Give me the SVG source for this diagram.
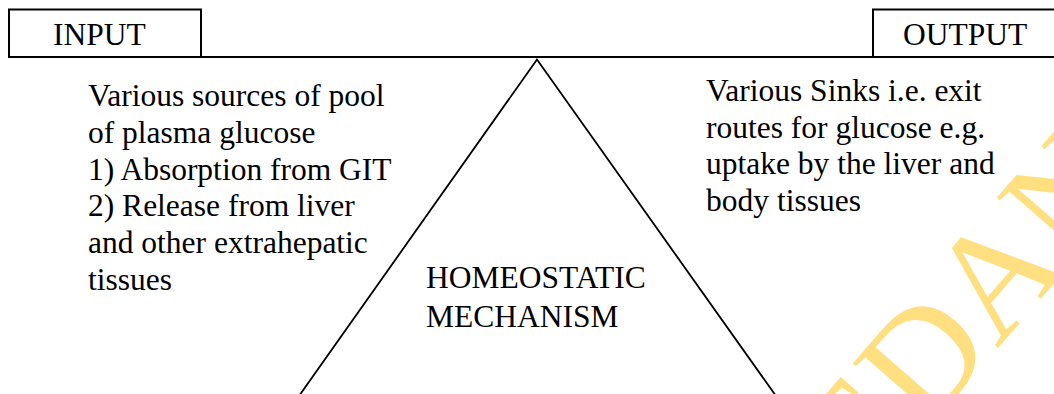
<svg xmlns="http://www.w3.org/2000/svg" width="1054" height="394" viewBox="0 0 1054 394">
  <style>
    .t { font-family: "Liberation Serif", "Times New Roman", serif; font-size: 31.5px; fill: #000; }
    .box { fill: #fff; stroke: #000; stroke-width: 2; }
    .ln { fill: none; stroke: #000; stroke-width: 1.8; }
    .wm { font-family: "Liberation Serif", "Times New Roman", serif; font-size: 152px; fill: #FFDF80; }
  </style>
  <rect width="1054" height="394" fill="#fff"/>
  <g id="watermark">
    <text class="wm" transform="translate(864,502) rotate(-49)">EDAN</text>
  </g>
  <g id="connectors">
    <line class="ln" x1="201" y1="57" x2="873" y2="57"/>
    <polyline class="ln" points="299,396 537,59.5 776,396"/>
  </g>
  <g id="input">
    <rect class="box" x="9" y="9.5" width="192" height="47.5"/>
    <text class="t" x="53" y="44.5">INPUT</text>
  </g>
  <g id="output">
    <rect class="box" x="873" y="9.5" width="190" height="47.5"/>
    <text class="t" x="903" y="44.5">OUTPUT</text>
  </g>
  <g id="sources">
    <text class="t" x="88" y="106">Various sources of pool</text>
    <text class="t" x="88" y="142.8">of plasma glucose</text>
    <text class="t" x="88" y="179.6">1) Absorption from GIT</text>
    <text class="t" x="88" y="216.4">2) Release from liver</text>
    <text class="t" x="88" y="253.2">and other extrahepatic</text>
    <text class="t" x="88" y="290">tissues</text>
  </g>
  <g id="sinks">
    <text class="t" x="706" y="101">Various Sinks i.e. exit</text>
    <text class="t" x="706" y="137.5">routes for glucose e.g.</text>
    <text class="t" x="706" y="174">uptake by the liver and</text>
    <text class="t" x="706" y="210.5">body tissues</text>
  </g>
  <g id="mechanism">
    <text class="t" x="426" y="288">HOMEOSTATIC</text>
    <text class="t" x="426" y="327">MECHANISM</text>
  </g>
</svg>
